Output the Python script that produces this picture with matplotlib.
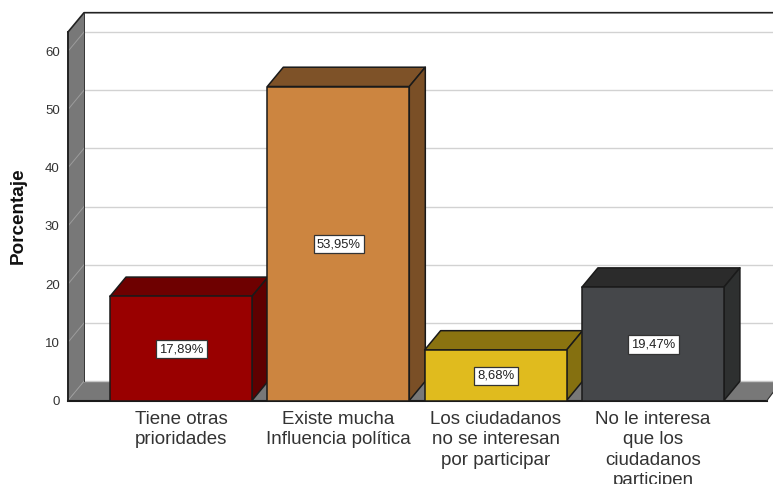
import matplotlib
matplotlib.use("Agg")
import matplotlib.pyplot as plt
from matplotlib.patches import Polygon

categories = ["Tiene otras\nprioridades", "Existe mucha\nInfluencia política",
              "Los ciudadanos\nno se interesan\npor participar",
              "No le interesa\nque los\nciudadanos\nparticipen"]
values = [17.89, 53.95, 8.68, 19.47]
value_labels = ["17,89%", "53,95%", "8,68%", "19,47%"]
yticks = [0, 10, 20, 30, 40, 50, 60]
front_colors = ["#990000", "#CC8540", "#E0BB1E", "#45474A"]
top_colors = ["#6E0000", "#7E5228", "#8A7310", "#2B2B2B"]
side_colors = ["#5E0000", "#7A4F26", "#857010", "#2E3030"]

W, H = 773, 484
plt.rcParams["font.family"] = ["Liberation Sans", "DejaVu Sans"]
fig = plt.figure(figsize=(W / 100, H / 100), dpi=100, facecolor="white")

x0, x1, ybase, ytop = 68, 773, 400.5, 32
ax = fig.add_axes([x0 / W, 1 - ybase / H, (x1 - x0) / W, (ybase - ytop) / H])
ppx = 157.3
ppy = 5.82
ax.set_xlim((x0 - 181) / ppx, (x1 - 181) / ppx)
ax.set_ylim(0, (ybase - ytop) / ppy)
dx, dy = 16 / ppx, 19.3 / ppy
xl, xr = ax.get_xlim()
xfr = xr - 6 / ppx
ymax = ax.get_ylim()[1]
EDGE = "#1a1a1a"


def poly(pts, fc, ec=EDGE, lw=1.1, z=2):
    ax.add_patch(Polygon(pts, closed=True, fc=fc, ec=ec, lw=lw, zorder=z,
                         clip_on=False, joinstyle="round"))


# walls and floor
poly([(xl, 0), (xl + dx, dy), (xl + dx, ymax + dy), (xl, ymax)], "#787878", ec="none", z=1)
poly([(xl, 0), (xfr, 0), (xfr + dx, dy), (xl + dx, dy)], "#787878", ec="none", z=1)
ax.plot([xl, xfr], [0, 0], color=EDGE, lw=1.5, zorder=1.5, clip_on=False)
ax.plot([xfr, xr], [0, dy * 0.42], color="#333333", lw=0.8, zorder=1.5, clip_on=False)
ax.plot([xl, xl + dx, xr], [ymax, ymax + dy, ymax + dy], color="#222222", lw=1.2, zorder=1.5, clip_on=False)
ax.plot([xl + dx, xl + dx], [dy, ymax + dy], color="#333333", lw=0.7, zorder=1.5, clip_on=False)
ax.plot([xl, xl], [0, ymax], color="#222222", lw=1.4, zorder=1.6, clip_on=False)

# gridlines
for t in yticks:
    if t > 0:
        ax.plot([xl + dx, xr], [t + dy] * 2, color="#D2D2D2", lw=1.0, zorder=1.2, clip_on=False)
        ax.plot([xl, xl + dx], [t, t + dy], color="#9C9C9C", lw=0.7, zorder=1.2, clip_on=False)
ax.plot([xl + dx, xr], [dy, dy], color="#C8C8C8", lw=1.0, zorder=1.2, clip_on=False)
ax.plot([xl, xl + dx], [0, dy], color="#9C9C9C", lw=0.7, zorder=1.2, clip_on=False)

# 3D bars
bw = 142 / ppx
for i, v in enumerate(values):
    a, b = i - bw / 2, i + bw / 2
    z = 3 + i
    poly([(a, v), (b, v), (b + dx, v + dy), (a + dx, v + dy)], top_colors[i], z=z)
    poly([(b, 0), (b + dx, dy), (b + dx, v + dy), (b, v)], side_colors[i], z=z)
    poly([(a, 0), (b, 0), (b, v), (a, v)], front_colors[i], z=z + 0.1)
    ax.text(i + 0.003, v / 2 - 0.1, value_labels[i], ha="center", va="center", fontsize=9.4,
            color="#222222", zorder=10,
            bbox=dict(boxstyle="square,pad=0.25", fc="white", ec="#333333", lw=0.9))

ax.set_xticks(range(len(categories)))
ax.set_xticklabels([])
ax.set_yticks(yticks)
ax.tick_params(axis="both", length=0)
ax.tick_params(axis="y", labelsize=9.5, labelcolor="#333333", pad=6)
for s in ax.spines.values():
    s.set_visible(False)
ax.patch.set_visible(False)

for i, c in enumerate(categories):
    ax.annotate(c, (i, 0), xytext=(0, -7.6), textcoords="offset points", ha="center", va="top",
                fontsize=13.5, color="#333333", linespacing=1.25, annotation_clip=False)

fig.text(18 / W, 1 - 216 / H, "Porcentaje", rotation=90, ha="center", va="center",
         fontsize=13.6, fontweight="bold", color="#111111")

fig.savefig("out.png", dpi=100)
